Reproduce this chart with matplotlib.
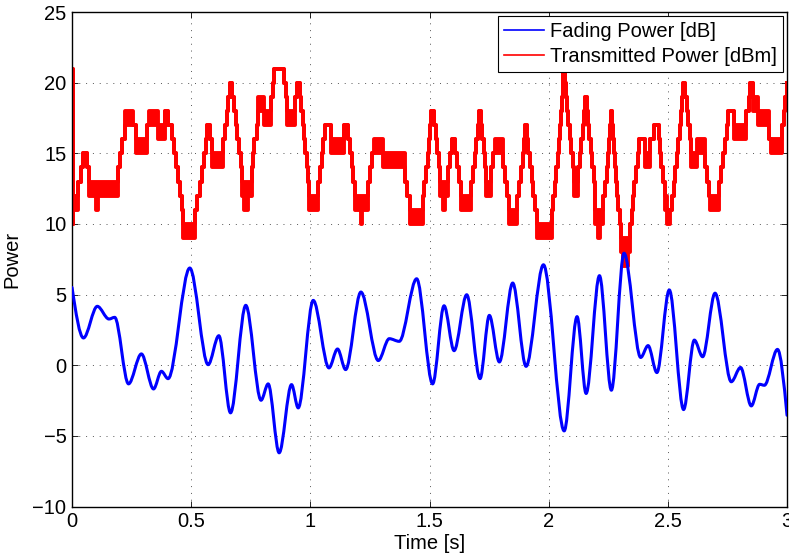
import matplotlib
matplotlib.use("Agg")
import matplotlib.pyplot as plt
from matplotlib.path import Path
from matplotlib.patches import PathPatch
from matplotlib.lines import Line2D

plt.rcParams['font.family'] = ['Liberation Sans', 'DejaVu Sans']

# fading power: turning points of the curve (time [s], dB)
fade_t = [0.000, 0.048, 0.106, 0.155, 0.179, 0.237, 0.291, 0.342, 0.375, 0.403,
          0.494, 0.571, 0.616, 0.665, 0.729, 0.793, 0.823, 0.869, 0.921, 0.949,
          1.012, 1.078, 1.114, 1.148, 1.212, 1.285, 1.331, 1.373, 1.446, 1.513,
          1.561, 1.603, 1.656, 1.712, 1.751, 1.793, 1.849, 1.905, 1.978, 2.065,
          2.119, 2.157, 2.213, 2.263, 2.316, 2.386, 2.417, 2.454, 2.506, 2.566,
          2.611, 2.646, 2.698, 2.766, 2.805, 2.850, 2.885, 2.905, 2.960, 3.000]
fade_db = [5.5, 1.93, 4.17, 3.27, 3.39, -1.32, 0.80, -1.68, -0.43, -0.95,
           6.88, 0.04, 2.09, -3.37, 4.24, -2.48, -1.32, -6.2, -1.37, -3.02,
           4.59, -0.19, 1.15, -0.31, 5.18, 0.33, 1.88, 1.69, 6.12, -1.32,
           4.21, 1.03, 4.99, -0.95, 3.53, 0.23, 5.82, -0.08, 7.11, -4.65,
           3.44, -2.0, 6.34, -1.77, 7.93, 0.55, 1.39, -0.52, 5.33, -3.14,
           1.78, 0.6, 5.1, -1.17, -0.16, -2.88, -1.35, -1.42, 1.12, -3.54]

# transmitted power: step start times and the band the level dithers in (dBm)
tx_t = [0.000, 0.002, 0.006, 0.023, 0.037, 0.047, 0.061, 0.072, 0.101, 0.110,
        0.191, 0.201, 0.211, 0.222, 0.254, 0.268, 0.313, 0.321, 0.362, 0.390,
        0.401, 0.418, 0.429, 0.436, 0.443, 0.452, 0.460, 0.467, 0.516, 0.525,
        0.536, 0.544, 0.553, 0.560, 0.567, 0.578, 0.589, 0.634, 0.642, 0.649,
        0.656, 0.663, 0.672, 0.679, 0.686, 0.693, 0.700, 0.707, 0.714, 0.722,
        0.738, 0.754, 0.760, 0.765, 0.774, 0.782, 0.807, 0.833, 0.844, 0.849,
        0.889, 0.896, 0.903, 0.934, 0.946, 0.956, 0.961, 0.967, 0.973, 0.978,
        0.984, 0.989, 0.996, 1.031, 1.040, 1.048, 1.055, 1.062, 1.088, 1.141,
        1.158, 1.166, 1.173, 1.180, 1.187, 1.211, 1.218, 1.242, 1.250, 1.258,
        1.267, 1.305, 1.396, 1.405, 1.417, 1.471, 1.478, 1.485, 1.492, 1.497,
        1.501, 1.506, 1.519, 1.527, 1.533, 1.538, 1.544, 1.555, 1.566, 1.578,
        1.586, 1.595, 1.606, 1.614, 1.623, 1.631, 1.676, 1.683, 1.690, 1.697,
        1.702, 1.708, 1.716, 1.722, 1.728, 1.733, 1.739, 1.760, 1.767, 1.774,
        1.809, 1.817, 1.826, 1.833, 1.869, 1.877, 1.884, 1.891, 1.897, 1.900,
        1.910, 1.915, 1.921, 1.928, 1.935, 1.942, 1.949, 2.012, 2.019, 2.026,
        2.032, 2.037, 2.043, 2.048, 2.053, 2.057, 2.060, 2.062, 2.068, 2.072,
        2.078, 2.083, 2.089, 2.095, 2.100, 2.106, 2.124, 2.131, 2.137, 2.142,
        2.148, 2.152, 2.160, 2.166, 2.171, 2.177, 2.183, 2.188, 2.194, 2.205,
        2.216, 2.229, 2.236, 2.243, 2.250, 2.254, 2.258, 2.262, 2.266, 2.270,
        2.274, 2.278, 2.281, 2.285, 2.292, 2.299, 2.303, 2.313, 2.334, 2.342,
        2.349, 2.355, 2.360, 2.365, 2.374, 2.377, 2.402, 2.426, 2.440, 2.461,
        2.468, 2.473, 2.478, 2.486, 2.497, 2.511, 2.518, 2.525, 2.532, 2.539,
        2.543, 2.549, 2.554, 2.560, 2.563, 2.573, 2.580, 2.585, 2.591, 2.596,
        2.623, 2.654, 2.663, 2.671, 2.678, 2.715, 2.723, 2.732, 2.740, 2.747,
        2.754, 2.778, 2.827, 2.839, 2.846, 2.856, 2.877, 2.926, 2.933, 2.980,
        2.987, 2.992, 2.998, 3.000]
tx_lo = [21, 10, 11, 13, 14, 15, 14, 12, 11, 12,
         14, 15, 16, 17, 17, 15, 17, 17, 16, 18,
         17, 16, 15, 14, 13, 12, 11, 9, 11, 12,
         13, 14, 15, 16, 17, 16, 14, 16, 17, 18,
         19, 20, 19, 18, 17, 16, 15, 14, 12, 11,
         12, 14, 15, 16, 17, 18, 17, 19, 20, 21,
         20, 19, 17, 19, 20, 19, 18, 17, 16, 15,
         14, 13, 11, 13, 14, 15, 16, 17, 15, 17,
         16, 15, 14, 13, 11, 10, 11, 13, 14, 15,
         15, 14, 13, 12, 10, 12, 13, 14, 15, 16,
         17, 18, 17, 16, 15, 14, 12, 11, 12, 14,
         15, 16, 15, 14, 13, 11, 13, 14, 15, 16,
         17, 18, 17, 16, 15, 14, 12, 14, 15, 15,
         14, 13, 12, 10, 12, 13, 14, 15, 16, 17,
         16, 15, 14, 13, 12, 11, 9, 11, 12, 13,
         14, 15, 16, 17, 18, 19, 20, 21, 20, 19,
         18, 17, 16, 15, 14, 12, 14, 15, 16, 17,
         18, 19, 18, 17, 16, 15, 14, 13, 10, 9,
         10, 12, 13, 14, 15, 16, 17, 18, 17, 16,
         15, 14, 13, 12, 11, 10, 8, 7, 8, 10,
         11, 12, 13, 14, 15, 16, 14, 16, 17, 16,
         15, 14, 13, 11, 10, 11, 12, 13, 14, 15,
         16, 17, 18, 19, 20, 19, 18, 17, 16, 14,
         15, 14, 13, 12, 11, 13, 14, 15, 16, 17,
         18, 16, 18, 19, 20, 18, 17, 16, 15, 17,
         18, 19, 20, 20]
tx_hi = [21, 10, 12, 13, 14, 15, 14, 13, 13, 13,
         14, 15, 16, 18, 17, 16, 17, 18, 17, 18,
         17, 16, 15, 14, 13, 12, 11, 10, 11, 12,
         13, 14, 15, 16, 17, 16, 15, 16, 17, 18,
         19, 20, 19, 18, 17, 16, 15, 14, 13, 13,
         13, 14, 15, 16, 17, 19, 18, 19, 20, 21,
         20, 19, 18, 19, 20, 19, 18, 17, 16, 15,
         14, 13, 12, 13, 14, 15, 16, 17, 16, 17,
         16, 15, 14, 13, 12, 12, 12, 13, 14, 15,
         16, 15, 13, 12, 11, 12, 13, 14, 15, 16,
         17, 18, 17, 16, 15, 14, 13, 13, 13, 14,
         15, 16, 15, 14, 13, 12, 13, 14, 15, 16,
         17, 18, 17, 16, 15, 14, 13, 14, 15, 16,
         14, 13, 12, 11, 12, 13, 14, 15, 16, 17,
         16, 15, 14, 13, 12, 11, 10, 11, 12, 13,
         14, 15, 16, 17, 18, 19, 20, 21, 20, 19,
         18, 17, 16, 15, 14, 13, 14, 15, 16, 17,
         18, 19, 18, 17, 16, 15, 14, 13, 11, 11,
         11, 12, 13, 14, 15, 16, 17, 18, 17, 16,
         15, 14, 13, 12, 11, 10, 9, 9, 9, 10,
         11, 12, 13, 14, 15, 16, 15, 16, 17, 16,
         15, 14, 13, 12, 11, 11, 12, 13, 14, 15,
         16, 17, 18, 19, 20, 19, 18, 17, 16, 15,
         16, 14, 13, 12, 12, 13, 14, 15, 16, 17,
         18, 17, 18, 19, 20, 19, 18, 16, 16, 17,
         18, 19, 20, 20]

x_ticks = [0, 0.5, 1, 1.5, 2, 2.5, 3]
x_tick_labels = ['0', '0.5', '1', '1.5', '2', '2.5', '3']
y_ticks = [-10, -5, 0, 5, 10, 15, 20, 25]

fig = plt.figure(figsize=(7.89, 5.59), dpi=100)
ax = fig.add_axes([0.0913, 0.0939, 0.9062, 0.8846])

# smooth blue curve: cubic segments between turning points, flat at each turning point
n = len(fade_t)
slopes = [0.0] * n
slopes[0] = 1.5 * (fade_db[1] - fade_db[0]) / (fade_t[1] - fade_t[0])
slopes[-1] = 1.5 * (fade_db[-1] - fade_db[-2]) / (fade_t[-1] - fade_t[-2])
verts = [(fade_t[0], fade_db[0])]
codes = [Path.MOVETO]
for i in range(n - 1):
    dt = fade_t[i + 1] - fade_t[i]
    verts.append((fade_t[i] + dt / 3, fade_db[i] + slopes[i] * dt / 3))
    verts.append((fade_t[i + 1] - dt / 3, fade_db[i + 1] - slopes[i + 1] * dt / 3))
    verts.append((fade_t[i + 1], fade_db[i + 1]))
    codes += [Path.CURVE4] * 3
fade_patch = PathPatch(Path(verts, codes), facecolor='none', edgecolor='#0000ff',
                       lw=2.2, capstyle='round', joinstyle='round', zorder=3)
ax.add_patch(fade_patch)

# red stepped transmitted power, dithering drawn as a filled band
ax.fill_between(tx_t, tx_lo, tx_hi, step='post', color='#ff0000', lw=0, zorder=2)
ax.step(tx_t, tx_lo, where='post', color='#ff0000', lw=2.8, zorder=2)
ax.step(tx_t, tx_hi, where='post', color='#ff0000', lw=2.8, zorder=2)

ax.set_xlim(0, 3)
ax.set_ylim(-10, 25)
ax.set_xticks(x_ticks)
ax.set_xticklabels(x_tick_labels)
ax.set_yticks(y_ticks)
ax.tick_params(direction='in', length=4.5, width=0.6, top=True, right=True,
               labelsize=14.5, pad=4)
ax.grid(True, color='#555555', linestyle=(0, (1, 6)), lw=0.7)
for s in ax.spines.values():
    s.set_linewidth(1.0)

ax.set_xlabel('Time [s]', fontsize=14.5, labelpad=2)
ax.set_ylabel('Power', fontsize=14.5, labelpad=8)

handles = [Line2D([], [], color='#0000ff', lw=1.2),
           Line2D([], [], color='#ff0000', lw=1.2)]
leg = ax.legend(handles, ['Fading Power [dB]', 'Transmitted Power [dBm]'],
                loc='upper right', fontsize=14.5, fancybox=False, framealpha=1,
                edgecolor='black', borderaxespad=0.2, borderpad=0.3,
                handlelength=2.0, handletextpad=0.3, labelspacing=0.3)
leg.get_frame().set_linewidth(0.8)

fig.savefig('out.png', dpi=100)
